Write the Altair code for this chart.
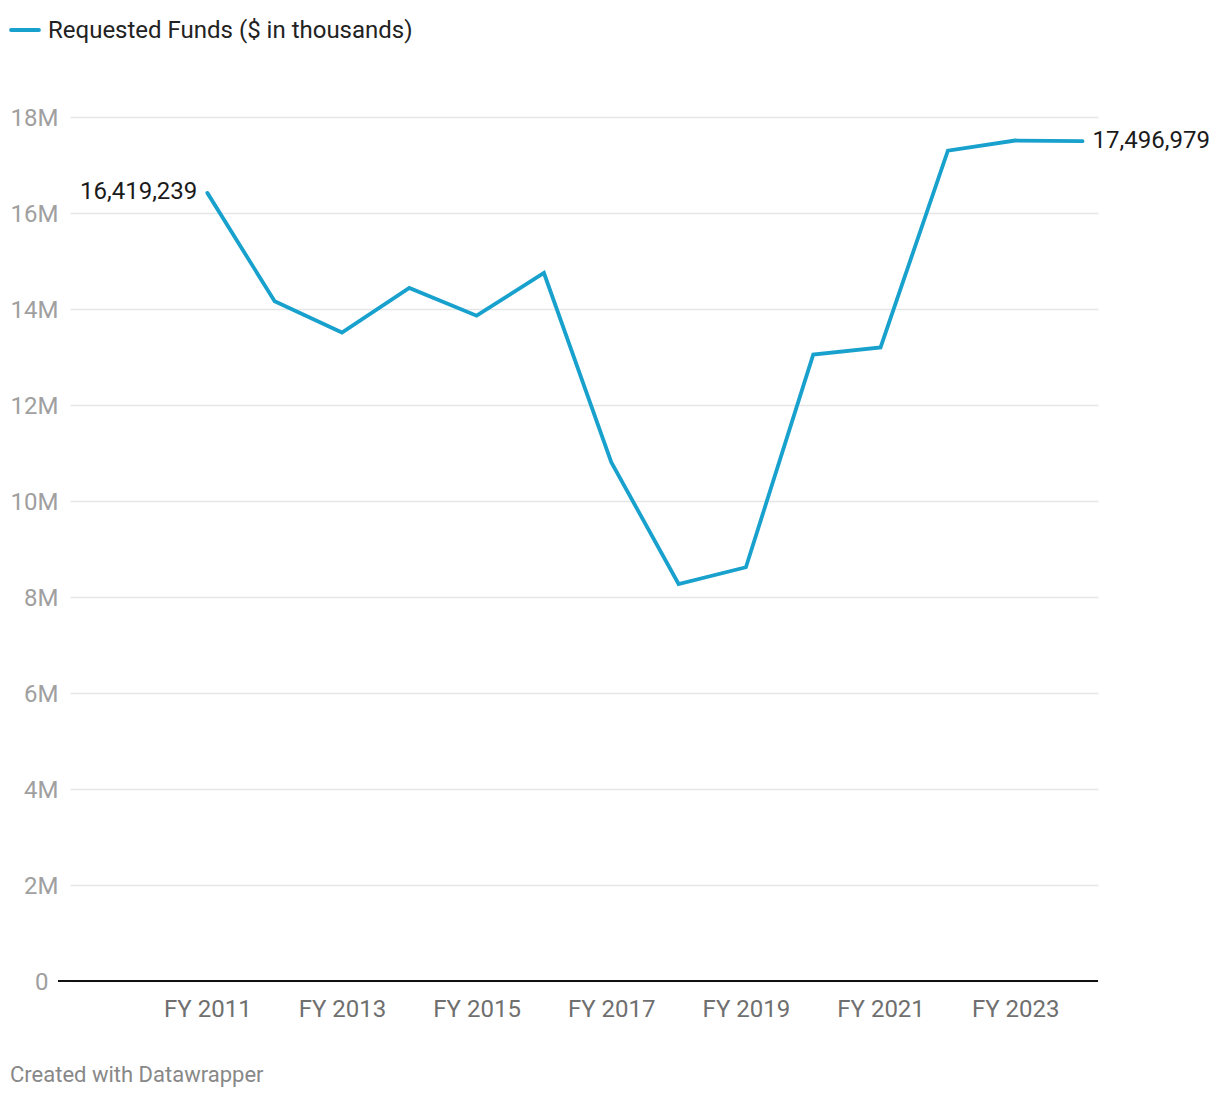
import altair as alt
import pandas as pd

years = [2011, 2012, 2013, 2014, 2015, 2016, 2017, 2018, 2019, 2020, 2021, 2022, 2023, 2024]
funds = [16419239, 14160000, 13510000, 14440000, 13860000, 14750000, 10810000,
         8270000, 8620000, 13050000, 13200000, 17300000, 17510000, 17496979]
label_years = [2011, 2024]
label_texts = ["16,419,239", "17,496,979"]
x_ticks = [2011, 2013, 2015, 2017, 2019, 2021, 2023]
y_ticks = [0, 2e6, 4e6, 6e6, 8e6, 10e6, 12e6, 14e6, 16e6, 18e6]
series_name = "Requested Funds ($ in thousands)"
footer = "Created with Datawrapper"

df = pd.DataFrame({"year": years, "funds": funds})
lab = pd.DataFrame({"year": label_years, "funds": [funds[0], funds[-1]], "text": label_texts})

BLUE = "#18a1cd"
FONT = "Roboto"
FS = 24
W, H = 1028, 864

xscale = alt.Scale(domain=[2008.96, 2024.23], nice=False, zero=False)
yscale = alt.Scale(domain=[0, 18e6], nice=False)

x_axis = alt.Axis(values=x_ticks, labelExpr="'FY ' + datum.value", grid=False, domain=False,
                  ticks=False, tickSize=0, labelPadding=16, labelFont=FONT, labelFontSize=FS,
                  labelColor="#6f6f6f", title=None)
y_axis = alt.Axis(values=y_ticks,
                  labelExpr="datum.value == 0 ? '0' : format(datum.value / 1e6, 'd') + 'M'",
                  grid=True, gridColor="#e5e5e5", gridWidth=1.5, domain=False, ticks=False,
                  tickSize=0, labelOffset=1.5,
                  labelPadding={"condition": {"test": "datum.value === 0", "value": 22}, "value": 12},
                  labelFont=FONT, labelFontSize=FS, labelColor="#a0a0a0", title=None)

base = alt.Chart(df)

line = base.mark_line(color=BLUE, strokeWidth=3.8, strokeJoin="miter", strokeCap="round").encode(
    x=alt.X("year:Q", scale=xscale, axis=x_axis),
    y=alt.Y("funds:Q", scale=yscale, axis=y_axis),
)

zero_df = pd.DataFrame({"v": [0]})
baseline = alt.Chart(zero_df).mark_rule(color="#111111", strokeWidth=2).encode(
    y=alt.Y("v:Q", scale=yscale, axis=y_axis),
    x=alt.value(-12),
    x2=alt.value(W),
)

left_lab = alt.Chart(lab.iloc[[0]]).mark_text(
    align="right", baseline="middle", dx=-10, dy=-0.5, font=FONT, fontSize=FS, color="#1a1a1a"
).encode(x=alt.X("year:Q", scale=xscale, axis=x_axis),
         y=alt.Y("funds:Q", scale=yscale, axis=y_axis), text="text:N")

right_lab = alt.Chart(lab.iloc[[1]]).mark_text(
    align="left", baseline="middle", dx=10, dy=-0.5, font=FONT, fontSize=FS, color="#1a1a1a"
).encode(x=alt.X("year:Q", scale=xscale, axis=x_axis),
         y=alt.Y("funds:Q", scale=yscale, axis=y_axis), text="text:N")

leg_df = pd.DataFrame({"t": [series_name]})
leg_line = alt.Chart(leg_df).mark_rule(color=BLUE, strokeWidth=3.8, strokeCap="round").encode(
    x=alt.value(-59), x2=alt.value(-31), y=alt.value(-87)
)
leg_text = alt.Chart(leg_df).mark_text(
    align="left", baseline="middle", font=FONT, fontSize=FS, color="#222222"
).encode(x=alt.value(-22), y=alt.value(-86), text="t:N")

foot_df = pd.DataFrame({"t": [footer]})
foot_text = alt.Chart(foot_df).mark_text(
    align="left", baseline="middle", font=FONT, fontSize=22, color="#888888"
).encode(x=alt.value(-60), y=alt.value(958), text="t:N")

chart = alt.layer(line, baseline, left_lab, right_lab, leg_line, leg_text, foot_text).properties(
    width=W, height=H,
    background="white",
    autosize=alt.AutoSizeParams(type="none"),
    padding={"left": 70, "top": 117, "right": 122, "bottom": 117},
).configure_view(stroke=None)

chart.save("out.html", embed_options={"renderer": "svg", "actions": False})
